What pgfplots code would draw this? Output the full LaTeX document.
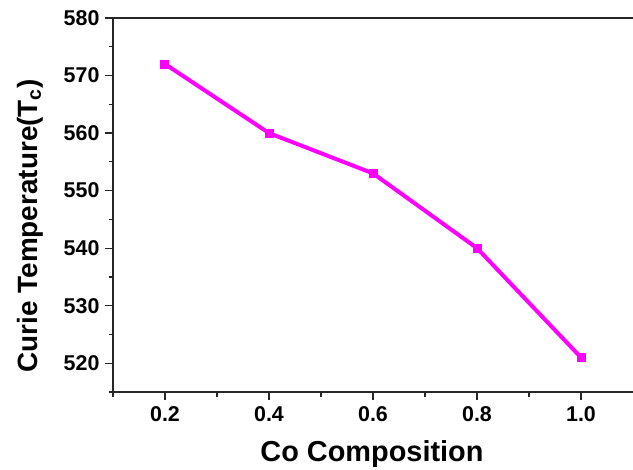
\documentclass[border=0pt]{standalone}
\usepackage{fontspec}
\setmainfont{Liberation Sans}
\usepackage{pgfplots}
\pgfplotsset{compat=1.18}
\definecolor{mag}{RGB}{255,0,255}
\begin{document}
\begin{tikzpicture}
\useasboundingbox (-113bp,-78bp) rectangle (520bp,392bp);
\begin{axis}[
  scale only axis,
  width=520bp, height=374bp,
  xmin=0.1, xmax=1.1, ymin=515, ymax=580,
  axis x line=box, axis y line=left,
  axis line style={-, line width=1.5bp, black!85},
  xtick={0.2,0.4,0.6,0.8,1.0},
  ytick={520,530,540,550,560,570,580},
  minor xtick={0.1,0.3,0.5,0.7,0.9},
  minor ytick={515,525,535,545,555,565,575},
  xtick pos=left, ytick pos=left,
  tick align=outside,
  major tick length=8bp, minor tick length=4.5bp,
  tick style={line width=1.3bp, black!85},
  /pgf/number format/assume math mode=true,
  xticklabel={\pgfmathprintnumber[fixed,fixed zerofill,precision=1]{\tick}},
  yticklabel={\pgfmathprintnumber[fixed,precision=0]{\tick}},
  tick label style={font=\fontsize{21.5}{25}\selectfont\bfseries},
  yticklabel style={xshift=-2bp},
  xticklabel style={yshift=-3bp},
  xlabel={Co Composition},
  ylabel={Curie Temperature(T\textsubscript{c})},
  label style={font=\fontsize{29}{33}\selectfont\bfseries},
  xlabel style={at={(axis description cs:0.498,-0.187)}, anchor=base},
  ylabel style={at={(axis description cs:-0.146,0.444)}, anchor=base, font=\fontsize{28}{32}\selectfont\bfseries},
]
\addplot[mag, line width=4bp, mark=square*, mark size=4bp, mark options={fill=mag, line width=0pt}]
coordinates {(0.2,572) (0.4,560) (0.6,553) (0.8,540) (1.0,521)};
\end{axis}
\begin{axis}[
  scale only axis,
  width=520bp, height=374bp,
  xmin=0.1, xmax=1.1, ymin=515, ymax=580,
  hide y axis, axis x line=none,
  xtick={0.2,0.3,0.4,0.5,0.6,0.7,0.8,0.9,1.0},
  ytick=\empty,
  xticklabels={},
  xtick pos=right,
  tick align=inside,
  major tick length=3bp,
  tick style={line width=1bp, black!70},
]
\end{axis}
\end{tikzpicture}
\end{document}
